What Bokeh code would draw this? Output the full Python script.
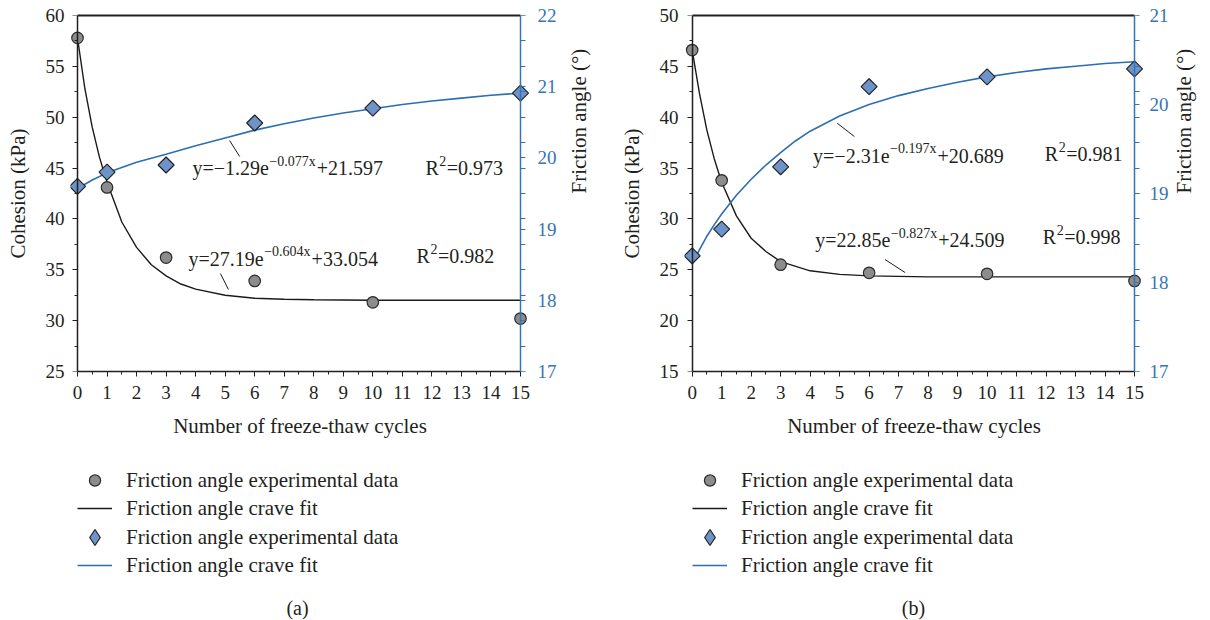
import math
from bokeh.plotting import figure
from bokeh.models import Range1d, LinearAxis, FixedTicker, Legend, LegendItem, Label
from bokeh.layouts import row, column
from bokeh.embed import file_html
from bokeh.resources import INLINE
from bokeh.core.properties import value

# ---------------- data ----------------
cycles = [0, 1, 3, 6, 10, 15]
x_ticks = list(range(16))

# panel (a)
a_cohesion = [57.8, 43.1, 36.2, 33.9, 31.8, 30.2]
a_friction = [19.60, 19.80, 19.90, 20.49, 20.70, 20.91]
a_coh_fit_x = [0, 0.25, 0.5, 0.75, 1, 1.5, 2, 2.5, 3, 3.5, 4, 5, 6, 7, 8, 10, 12, 15]
a_coh_fit_y = [57.8, 52.8, 49.0, 46.0, 43.6, 39.7, 37.2, 35.5, 34.4, 33.6, 33.1, 32.5, 32.2, 32.1, 32.05, 32.0, 32.0, 32.0]
a_fric_fit_x = [0, 0.5, 1, 2, 3, 4, 5, 6, 7, 8, 9, 10, 11, 12, 13, 14, 15]
a_fric_fit_y = [19.57, 19.69, 19.79, 19.94, 20.05, 20.17, 20.28, 20.39, 20.48, 20.56, 20.63, 20.69, 20.75, 20.80, 20.84, 20.88, 20.91]
a_coh_ticks = [25, 30, 35, 40, 45, 50, 55, 60]
a_fric_ticks = [17, 18, 19, 20, 21, 22]
a_eq_fric = ["y=\u22121.29e", "\u22120.077x", "+21.597"]
a_r2_fric = "=0.973"
a_eq_coh = ["y=27.19e", "\u22120.604x", "+33.054"]
a_r2_coh = "=0.982"

# panel (b)
b_cohesion = [46.6, 33.8, 25.5, 24.7, 24.6, 23.9]
b_friction = [18.30, 18.60, 19.30, 20.20, 20.31, 20.40]
b_coh_fit_x = [0, 0.25, 0.5, 0.75, 1, 1.5, 2, 2.5, 3, 4, 5, 6, 7, 8, 10, 12, 15]
b_coh_fit_y = [46.6, 42.3, 38.7, 35.9, 33.6, 30.3, 28.1, 26.8, 25.8, 24.9, 24.55, 24.4, 24.35, 24.3, 24.3, 24.3, 24.3]
b_fric_fit_x = [0, 0.25, 0.5, 0.75, 1, 1.5, 2, 2.5, 3, 3.5, 4, 5, 6, 7, 8, 9, 10, 11, 12, 13, 14, 15]
b_fric_fit_y = [18.21, 18.37, 18.52, 18.65, 18.77, 18.98, 19.16, 19.32, 19.46, 19.59, 19.70, 19.87, 20.00, 20.10, 20.18, 20.25, 20.31, 20.36, 20.40, 20.43, 20.46, 20.48]
b_coh_ticks = [15, 20, 25, 30, 35, 40, 45, 50]
b_fric_ticks = [17, 18, 19, 20, 21]
b_eq_fric = ["y=\u22122.31e", "\u22120.197x", "+20.689"]
b_r2_fric = "=0.981"
b_eq_coh = ["y=22.85e", "\u22120.827x", "+24.509"]
b_r2_coh = "=0.998"

legend_labels = ["Friction angle experimental data", "Friction angle crave fit",
                 "Friction angle experimental data", "Friction angle crave fit"]

# ---------------- style ----------------
FONT = "Liberation Serif"
TXT = "#231f20"
BLUE = "#3574b6"
LINE_BLUE = "#2c6db3"
DIA_FILL = "#6d93c9"
CIRC_FILL = "#8c8c8c"
BASE = 20
SUP = 14
LAB = "21px"

# Times/Liberation Serif advance widths (per 1000 em)
W = {c: 500 for c in "0123456789"}
W.update({".": 250, "=": 564, "+": 564, "\u2212": 564, "y": 500, "e": 444, "x": 500, "R": 667})

CIRC_STYLE = dict(marker="circle", size=11.5, fill_color=CIRC_FILL, line_color="#2b2b2b", line_width=1.2)
DIA_STYLE = dict(marker="square", angle=0.785398, size=11.3, fill_color=DIA_FILL,
                 line_color="#222222", line_width=1.2)
BLACK_LINE = dict(line_color="#1a1a1a", line_width=1.4)
BLUE_LINE = dict(line_color=LINE_BLUE, line_width=1.6)


def tw(s, size):
    return sum(W.get(c, 500) for c in s) / 1000.0 * size


def eq_text(p, x, y, parts):
    b1, sp, b2 = parts
    w1 = tw(b1, BASE)
    w2 = tw(sp, SUP)
    kw = dict(text_font=value(FONT), text_color=TXT, text_baseline="middle", text_align="left")
    p.text(x=[x], y=[y], text=[b1], text_font_size=f"{BASE}px", **kw)
    p.text(x=[x], y=[y], text=[sp], text_font_size=f"{SUP}px", x_offset=w1 + 0.5, y_offset=-7, **kw)
    p.text(x=[x], y=[y], text=[b2], text_font_size=f"{BASE}px", x_offset=w1 + w2 + 1.5, **kw)


def r2_text(p, x, y, rest):
    kw = dict(text_font=value(FONT), text_color=TXT, text_baseline="middle", text_align="left")
    wR = tw("R", BASE)
    p.text(x=[x], y=[y], text=["R"], text_font_size=f"{BASE}px", **kw)
    p.text(x=[x], y=[y], text=["2"], text_font_size=f"{SUP}px", x_offset=wR + 0.5, y_offset=-7, **kw)
    p.text(x=[x], y=[y], text=[rest], text_font_size=f"{BASE}px", x_offset=wR + tw("2", SUP) + 1.0, **kw)


def label_axis(ax, color, standoff, lab_standoff):
    # axis that only carries the numbers and the title (drawn at the frame edge)
    ax.axis_line_color = None
    ax.major_tick_line_color = None
    ax.minor_tick_line_color = None
    ax.major_tick_out = 0
    ax.major_tick_in = 0
    ax.minor_tick_out = 0
    ax.minor_tick_in = 0
    ax.major_label_standoff = standoff
    ax.major_label_text_font = FONT
    ax.major_label_text_font_size = "19px"
    ax.major_label_text_color = color
    ax.axis_label_text_font = FONT
    ax.axis_label_text_font_size = LAB
    ax.axis_label_text_font_style = "normal"
    ax.axis_label_text_color = TXT
    ax.axis_label_standoff = lab_standoff


def tick_axis(color, ticker, loc, bounds, minor_out, y_range_name="default"):
    # axis that carries the line and ticks, pinned to the data edge
    ax = LinearAxis(y_range_name=y_range_name, ticker=ticker, fixed_location=loc, bounds=bounds,
                    axis_line_color=color, axis_line_width=1.5,
                    major_tick_line_color=color, minor_tick_line_color=color,
                    major_tick_out=5, major_tick_in=0, minor_tick_out=minor_out, minor_tick_in=0,
                    major_label_standoff=0,
                    major_label_overrides={t: "" for t in ticker.ticks})
    return ax


def make_panel(coh, fric, coh_fx, coh_fy, fric_fx, fric_fy, coh_ticks, fric_ticks,
               eq_f, r2_f, eq_c, r2_c, ann, geo):
    c0, c1 = coh_ticks[0], coh_ticks[-1]
    f0, f1 = fric_ticks[0], fric_ticks[-1]
    p = figure(width=605, height=440, x_range=Range1d(geo["x0"], geo["x1"]),
               y_range=Range1d(c0, c1),
               output_backend="svg", toolbar_location=None,
               min_border_left=geo["left"], min_border_right=geo["right"],
               min_border_top=15, min_border_bottom=69)
    p.outline_line_color = None
    p.xgrid.grid_line_color = None
    p.ygrid.grid_line_color = None
    p.background_fill_color = "white"
    p.border_fill_color = "white"
    p.extra_y_ranges = {"fric": Range1d(f0, f1)}

    # x axis (normal, at the frame bottom)
    xa = p.below[0]
    xa.ticker = FixedTicker(ticks=x_ticks, minor_ticks=[t + 0.5 for t in x_ticks[:-1]])
    xa.bounds = (x_ticks[0], x_ticks[-1])
    xa.axis_line_color = "#231f20"
    xa.axis_line_width = 1.5
    xa.major_tick_line_color = "#231f20"
    xa.minor_tick_line_color = "#231f20"
    xa.major_tick_out = 5
    xa.major_tick_in = 0
    xa.minor_tick_out = 3
    xa.minor_tick_in = 0
    xa.major_label_text_font = FONT
    xa.major_label_text_font_size = "19px"
    xa.major_label_text_color = TXT
    xa.major_label_standoff = 9
    xa.axis_label = "Number of freeze-thaw cycles"
    xa.axis_label_text_font = FONT
    xa.axis_label_text_font_size = LAB
    xa.axis_label_text_font_style = "normal"
    xa.axis_label_text_color = TXT
    xa.axis_label_standoff = 12

    # left: labels at the frame edge + line/ticks at x = 0
    coh_ticker = FixedTicker(ticks=coh_ticks, minor_ticks=[t + 2.5 for t in coh_ticks[:-1]])
    ya = p.left[0]
    ya.ticker = coh_ticker
    ya.axis_label = "Cohesion (kPa)"
    label_axis(ya, TXT, geo["lstand"], 13)
    p.add_layout(tick_axis("#231f20", coh_ticker, x_ticks[0], (c0, c1), 3), "left")

    # right: labels at the frame edge + line/ticks at x = 15
    n = len(coh_ticks) * 2 - 2
    fric_ticker = FixedTicker(ticks=fric_ticks,
                              minor_ticks=[f0 + k * (f1 - f0) / n for k in range(n + 1)])
    ra = LinearAxis(y_range_name="fric", ticker=fric_ticker, axis_label="Friction angle (\u00b0)")
    label_axis(ra, BLUE, geo["rstand"], geo["rlab"])
    ra.axis_label_orientation = math.pi / 2
    p.add_layout(ra, "right")
    p.add_layout(tick_axis(BLUE, fric_ticker, x_ticks[-1], (f0, f1), 5, "fric"), "right")

    top = LinearAxis(axis_line_color="#231f20", axis_line_width=2,
                     ticker=FixedTicker(ticks=[]), bounds=(x_ticks[0], x_ticks[-1]),
                     major_tick_line_color=None, minor_tick_line_color=None,
                     major_label_standoff=0)
    p.add_layout(top, "above")

    # fit curves
    p.line(coh_fx, coh_fy, **BLACK_LINE)
    p.line(fric_fx, fric_fy, y_range_name="fric", **BLUE_LINE)
    # leader lines
    for (x0, y0, x1, y1) in ann["leaders"]:
        p.line([x0, x1], [y0, y1], line_color="#1a1a1a", line_width=1)
    # markers
    p.scatter(cycles, coh, **CIRC_STYLE)
    p.scatter(cycles, fric, y_range_name="fric", **DIA_STYLE)

    eq_text(p, ann["eq_f"][0], ann["eq_f"][1], eq_f)
    r2_text(p, ann["r2_f"][0], ann["r2_f"][1], r2_f)
    eq_text(p, ann["eq_c"][0], ann["eq_c"][1], eq_c)
    r2_text(p, ann["r2_c"][0], ann["r2_c"][1], r2_c)
    return p


def make_legend(coh, fric, coh_fx, coh_fy, fric_fx, fric_fy, caption, lx, cx):
    # strip below each chart holding its legend and caption;
    # the renderers keep the chart's data but sit outside this strip's ranges
    q = figure(width=605, height=180, x_range=Range1d(100, 101), y_range=Range1d(100, 101),
               output_backend="svg", toolbar_location=None,
               x_axis_location=None, y_axis_location=None,
               min_border_left=0, min_border_right=0, min_border_top=0, min_border_bottom=0)
    q.outline_line_color = None
    q.xgrid.grid_line_color = None
    q.ygrid.grid_line_color = None
    q.extra_y_ranges = {"fric": Range1d(100, 101)}
    s_circ = q.scatter(cycles, coh, **CIRC_STYLE)
    l_black = q.line(coh_fx, coh_fy, **BLACK_LINE)
    dia_leg = dict(DIA_STYLE)
    dia_leg["marker"] = "diamond"
    dia_leg.pop("angle")
    s_dia = q.scatter(cycles, fric, y_range_name="fric", **dia_leg)
    l_blue = q.line(fric_fx, fric_fy, y_range_name="fric", **BLUE_LINE)
    rends = [s_circ, l_black, s_dia, l_blue]
    # (row centre from the strip top, glyph box width, glyph box height)
    rows = [(40, 35, 28), (68, 35, 28), (97, 41, 40), (125, 35, 28)]
    for lab, r, (cy, gw, gh) in zip(legend_labels, rends, rows):
        shift = (gw - 35) // 2
        lg = Legend(items=[LegendItem(label=lab, renderers=[r])],
                    location=(lx - shift, 180 - cy - gh // 2), orientation="vertical",
                    border_line_color=None, background_fill_alpha=0,
                    padding=0, margin=0, glyph_width=gw, glyph_height=gh,
                    label_height=gh, label_standoff=14 - shift, spacing=0,
                    label_text_font=FONT, label_text_font_size=LAB,
                    label_text_color=TXT)
        q.add_layout(lg)
    q.add_layout(Label(x=cx, y=13, x_units="screen", y_units="screen", text=caption,
                       text_align="center", text_baseline="middle", text_font=FONT,
                       text_font_size="20px", text_color=TXT))
    return q


ann_a = dict(eq_f=(3.89, 44.96), r2_f=(11.78, 45.05), eq_c=(3.76, 36.1), r2_c=(11.48, 36.4),
             leaders=[(5.15, 47.71, 5.49, 46.14), (4.84, 34.63, 5.11, 33.06)])
ann_b = dict(eq_f=(4.10, 36.23), r2_f=(11.96, 36.43), eq_c=(4.17, 27.88), r2_c=(11.89, 28.27),
             leaders=[(4.92, 39.41, 5.50, 38.10), (6.54, 26.01, 7.22, 24.73)])

geo_a = dict(x0=-0.237, x1=15.305, left=70, right=76, lstand=6, rstand=8, rlab=19)
geo_b = dict(x0=-0.2605, x1=15.305, left=79, right=66, lstand=6, rstand=6, rlab=12)

pa = make_panel(a_cohesion, a_friction, a_coh_fit_x, a_coh_fit_y, a_fric_fit_x, a_fric_fit_y,
                a_coh_ticks, a_fric_ticks, a_eq_fric, a_r2_fric, a_eq_coh, a_r2_coh, ann_a, geo_a)
pb = make_panel(b_cohesion, b_friction, b_coh_fit_x, b_coh_fit_y, b_fric_fit_x, b_fric_fit_y,
                b_coh_ticks, b_fric_ticks, b_eq_fric, b_r2_fric, b_eq_coh, b_r2_coh, ann_b, geo_b)
# legend strips share the chart's frame alignment (frame left edge 70 / 79 px)
la = make_legend(a_cohesion, a_friction, a_coh_fit_x, a_coh_fit_y, a_fric_fit_x, a_fric_fit_y,
                 "(a)", 7, 227)
lb = make_legend(b_cohesion, b_friction, b_coh_fit_x, b_coh_fit_y, b_fric_fit_x, b_fric_fit_y,
                 "(b)", 8, 229)

layout = row(column(pa, la), column(pb, lb))
open("out.html", "w").write(file_html(layout, INLINE))
